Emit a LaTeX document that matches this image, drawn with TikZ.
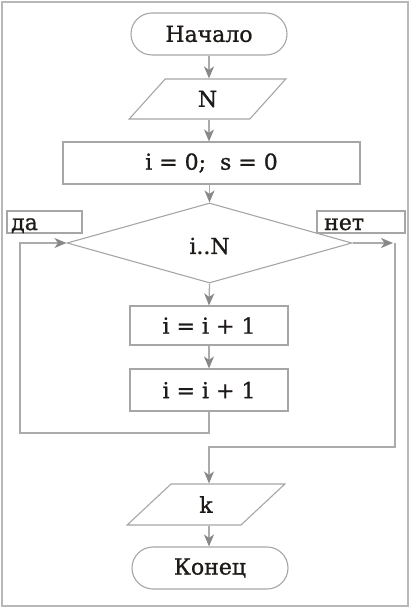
\documentclass[tikz,border=0pt]{standalone}
\usepackage{fontspec}
\setmainfont{DejaVu Serif}[FakeBold=1]
\usetikzlibrary{shapes.geometric,arrows.meta}
\definecolor{lin}{HTML}{ABABAB}
\definecolor{tip}{HTML}{888888}
\definecolor{box}{HTML}{A6A6A6}
\definecolor{txt}{HTML}{1E1A18}
\begin{document}
\begin{tikzpicture}[x=1pt,y=-1pt,
  every node/.style={font=\fontsize{22}{26}\selectfont,text=txt,inner sep=0pt},
  term/.style={draw=box,line width=1.1pt,rectangle,rounded corners=21pt,minimum width=156pt,minimum height=42pt},
  proc/.style={draw=box,line width=1.1pt,rectangle},
  io/.style={draw=box,line width=1.1pt,trapezium,trapezium left angle=63.4,trapezium right angle=116.6,trapezium stretches=true},
  cond/.style={draw=box,line width=1.1pt,diamond,minimum width=285pt,minimum height=80pt},
  lab/.style={draw=box,line width=1.1pt,rectangle,minimum height=22pt},
  conn/.style={draw=lin,line width=1.3pt},
  arr/.style={conn,-{Stealth[length=12pt,width=10pt,inset=3.5pt,color=tip]}}]
\useasboundingbox (0,0) rectangle (411,609);
\draw[draw=lin!85,line width=1.6pt] (2,2) rectangle (408,606);
\node[term] (start) at (209,34) {Начало};
\node[io,minimum width=157pt,minimum height=40pt] (N) at (207.5,99) {N};
\node[proc,minimum width=297pt,minimum height=42pt] (init) at (211.5,163) {i = 0;\ \ s = 0};
\node[cond] (dia) at (209.5,243) {};
\node (diat) at (209.5,246) {i..N};
\node[lab,minimum width=75pt] (yes) at (44.5,222) {};
\node[anchor=base west] (yest) at (11,230) {да};
\node[lab,minimum width=88pt] (no) at (361,222) {};
\node[anchor=base west] (not) at (324,230) {нет};
\node[proc,minimum width=158pt,minimum height=39pt] (b1) at (209,325.5) {i = i + 1};
\node[proc,minimum width=158pt,minimum height=42pt] (b2) at (209,390) {i = i + 1};
\node[io,minimum width=158pt,minimum height=41pt] (k) at (206,504.5) {k};
\node[term] (end) at (210,568) {Конец};
\coordinate (L1) at (20,433);
\coordinate (R1) at (395,243);
\coordinate (R2) at (209,447);
\draw[arr] (start.south) -- (start.south |- N.north);
\draw[arr] (start.south |- N.south) -- (start.south |- init.north);
\draw[arr] (dia.north |- init.south) -- (dia.north);
\draw[arr] (dia.south) -- (b1.north);
\draw[arr] (b1.south) -- (b2.north);
\draw[arr] (b2.south) |- (L1) |- (dia.west);
\draw[arr,shorten >=2pt] (dia.east) -- (R1);
\draw[arr] (R1) |- (R2) -- (R2 |- k.north);
\draw[arr] (R2 |- k.south) -- (R2 |- end.north);
\end{tikzpicture}
\end{document}
